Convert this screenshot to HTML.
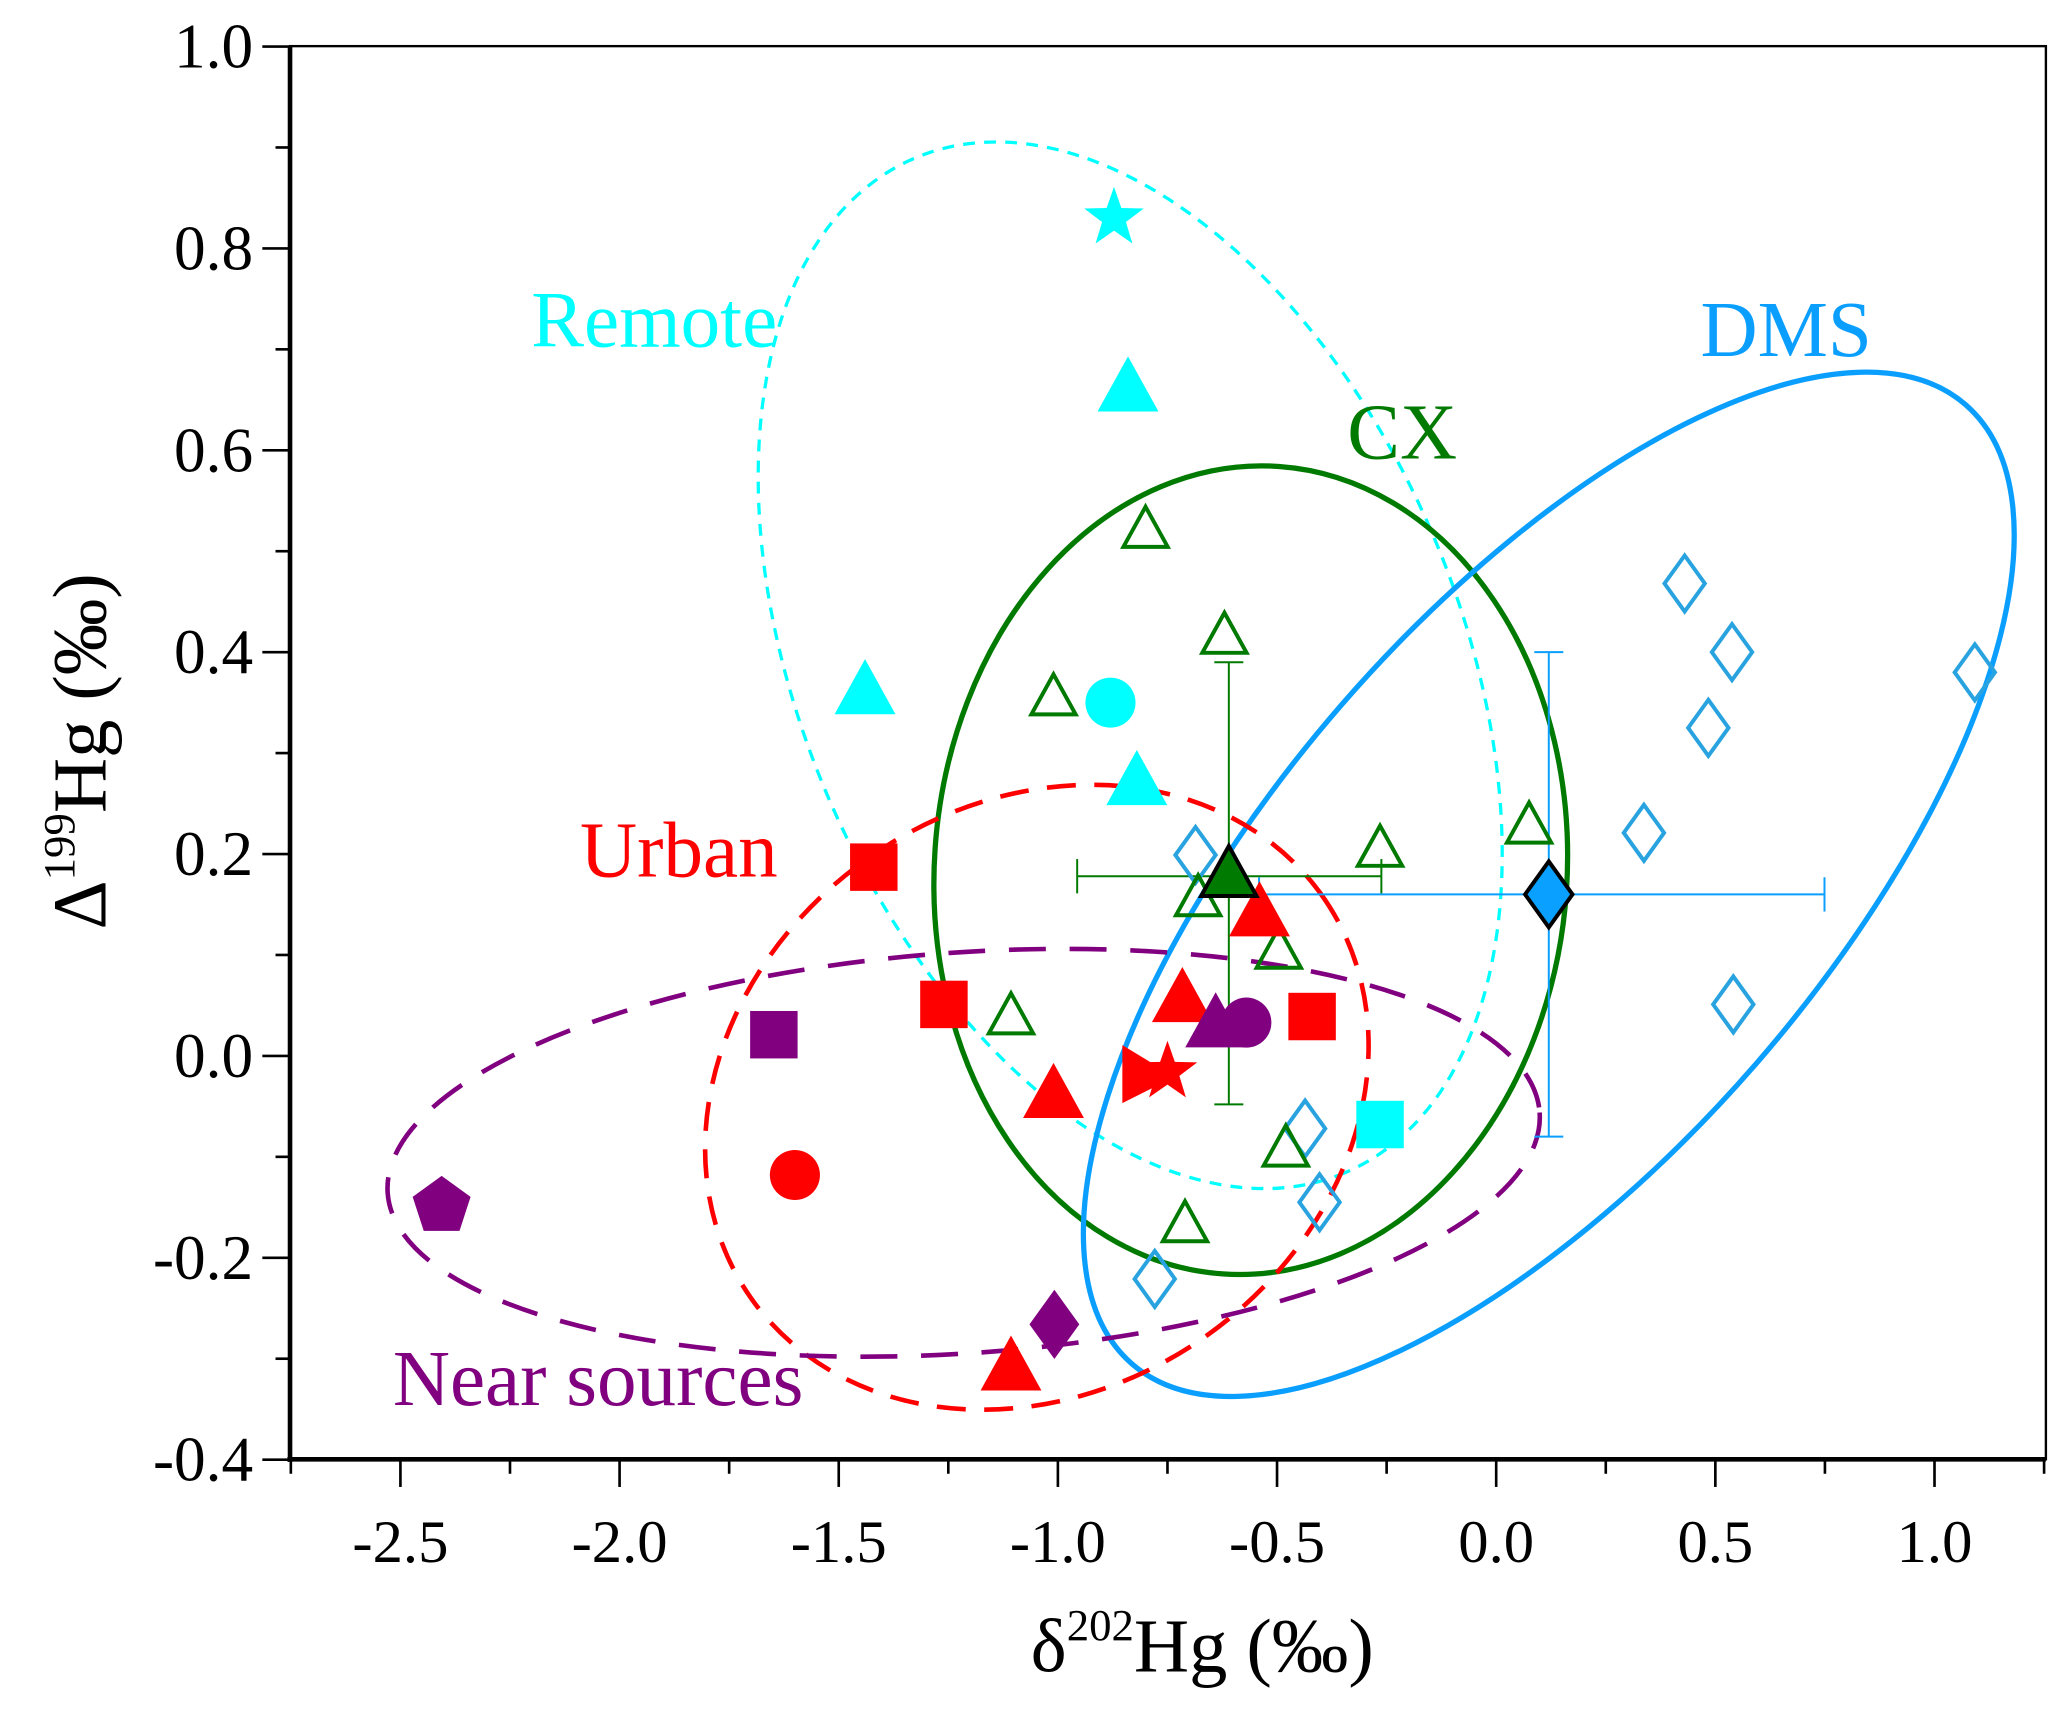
<!DOCTYPE html>
<html><head><meta charset="utf-8"><style>
html,body{margin:0;padding:0;background:#fff}
svg{display:block}
text{font-family:"Liberation Serif","DejaVu Serif",serif}
</style></head><body>
<svg id="chart" width="2067" height="1710" viewBox="0 0 1568 1297.2" xmlns="http://www.w3.org/2000/svg">
<g id="ellipses"></g>
<g id="marks"></g>
<g id="axes"></g>
<text x="403" y="263" font-size="60" fill="#00ffff">Remote</text>
<text x="1022" y="348" font-size="60" fill="#007a00">CX</text>
<text x="1290" y="270" font-size="60" fill="#0a9fff">DMS</text>
<text x="440" y="665" font-size="60" fill="#ff0000">Urban</text>
<text x="298" y="1066" font-size="60" fill="#800080">Near sources</text>
<text x="912" y="1268" font-size="58" text-anchor="middle">δ<tspan font-size="34" dy="-24">202</tspan><tspan dy="24">Hg (‰)</tspan></text>
<text transform="translate(80,570) rotate(-90)" font-size="58" text-anchor="middle">Δ<tspan font-size="34" dy="-24">199</tspan><tspan dy="24">Hg (‰)</tspan></text>
</svg>
<script>
const xTicks=[-2.5,-2.0,-1.5,-1.0,-0.5,0.0,0.5,1.0];
const xTickLabels=["-2.5","-2.0","-1.5","-1.0","-0.5","0.0","0.5","1.0"];
const yTicks=[-0.4,-0.2,0.0,0.2,0.4,0.6,0.8,1.0];
const yTickLabels=["-0.4","-0.2","0.0","0.2","0.4","0.6","0.8","1.0"];
const cyanX=[-0.872,-0.84,-1.44,-0.88,-0.82,-0.265];
const cyanY=[0.83,0.66,0.36,0.35,0.27,-0.068];
const cyanShape=["star","tri","tri","circle","tri","square"];
const redX=[-1.42,-1.26,-0.42,-0.54,-0.716,-1.01,-1.107,-1.6,-0.75,-0.8];
const redY=[0.187,0.051,0.039,0.14,0.055,-0.04,-0.31,-0.118,-0.016,-0.018];
const redShape=["square","square","square","tri","tri","tri","tri","circle","star","rtri"];
const purpleX=[-1.648,-2.406,-1.008,-0.64,-0.57];
const purpleY=[0.021,-0.149,-0.266,0.03,0.033];
const purpleShape=["square","pent","diamond","tri","circle"];
const cxX=[-0.80,-0.62,-1.01,-0.265,0.075,-0.68,-0.496,-1.107,-0.48,-0.71];
const cxY=[0.52,0.415,0.354,0.204,0.227,0.155,0.103,0.038,-0.093,-0.168];
const dmsX=[0.43,0.538,0.484,0.337,0.541,1.092,-0.686,-0.436,-0.403,-0.779];
const dmsY=[0.468,0.4,0.325,0.221,0.051,0.38,0.199,-0.072,-0.145,-0.221];
const cxMean=[-0.61,0.178], cxErrX=[-0.956,-0.262], cxErrY=[-0.048,0.39];
const dmsMean=[0.12,0.16], dmsErrX=[-0.541,0.749], dmsErrY=[-0.08,0.4];

const NS="http://www.w3.org/2000/svg";
const X0=220,X1=1552,Y0=35,Y1=1107;
const xs=v=>1135+332.5*v, ys=v=>801-765.7*v;
function mk(tag,attrs,parent){const e=document.createElementNS(NS,tag);for(const k in attrs)e.setAttribute(k,attrs[k]);parent.appendChild(e);return e;}
const ax=document.getElementById('axes'), mg=document.getElementById('marks'), eg=document.getElementById('ellipses');

function ell(cx,cy,rx,ry,ang,color,dash,w,name){
  const e=mk('ellipse',{cx:xs(cx),cy:ys(cy),rx:rx,ry:ry,transform:`rotate(${ang} ${xs(cx)} ${ys(cy)})`,fill:'none',stroke:color,'stroke-width':w},eg);
  if(dash)e.setAttribute('stroke-dasharray',dash);
  
  
}
ell(-0.835,0.387,418,250,67,'#00ffff','9,7',2.5,'ellipse-remote');
ell(-0.56,0.184,240,307,4,'#007a00',null,4,'ellipse-cx');
ell(0.12,0.17,482,208,-49,'#0a9fff',null,4,'ellipse-dms');
ell(-1.048,-0.041,265,222,-35,'#ff0000','22,14',3.5,'ellipse-urban');
ell(-1.215,-0.096,438,152,-4,'#800080','28,18',3.5,'ellipse-near-sources');

function shape(type,x,y,s,fill,stroke,sw,name){
  const cx=xs(x),cy=ys(y);let e;
  if(type==='square')e=mk('rect',{x:cx-s,y:cy-s,width:2*s,height:2*s},mg);
  else if(type==='circle')e=mk('circle',{cx:cx,cy:cy,r:s},mg);
  else{let pts=[];
    if(type==='tri')pts=[[0,-1.15],[1.05,0.75],[-1.05,0.75]];
    else if(type==='rtri')pts=[[-0.8,-1],[1,0.1],[-0.8,1]];
    else if(type==='diamond')pts=[[0,-1.25],[0.9,0],[0,1.25],[-0.9,0]];
    else if(type==='pent'){for(let i=0;i<5;i++){const a=-Math.PI/2+i*2*Math.PI/5;pts.push([Math.cos(a)*1.1,Math.sin(a)*1.1]);}}
    else if(type==='star'){for(let i=0;i<10;i++){const a=-Math.PI/2+i*Math.PI/5,r=i%2?0.5:1.25;pts.push([Math.cos(a)*r,Math.sin(a)*r]);}}
    e=mk('polygon',{points:pts.map(p=>(cx+p[0]*s)+','+(cy+p[1]*s)).join(' ')},mg);}
  e.setAttribute('fill',fill);e.setAttribute('stroke',stroke);e.setAttribute('stroke-width',sw);
  
  
}
function errbars(m,ex,ey,color,name){
  const g=mk('g',{stroke:color,'stroke-width':1.5},mg);
  
  
  mk('line',{x1:xs(ex[0]),x2:xs(ex[1]),y1:ys(m[1]),y2:ys(m[1])},g);
  mk('line',{x1:xs(m[0]),x2:xs(m[0]),y1:ys(ey[0]),y2:ys(ey[1])},g);
  [ex[0],ex[1]].forEach(v=>mk('line',{x1:xs(v),x2:xs(v),y1:ys(m[1])-13,y2:ys(m[1])+13},g));
  [ey[0],ey[1]].forEach(v=>mk('line',{x1:xs(m[0])-11,x2:xs(m[0])+11,y1:ys(v),y2:ys(v)},g));
}
errbars(cxMean,cxErrX,cxErrY,'#007a00','errorbar-cx');
errbars(dmsMean,dmsErrX,dmsErrY,'#0a9fff','errorbar-dms');
for(let i=0;i<dmsX.length;i++)shape('diamond',dmsX[i],dmsY[i],17,'none','#29a3e0',3,'point-dms');
for(let i=0;i<cxX.length;i++)shape('tri',cxX[i],cxY[i],16,'none','#007a00',3,'point-cx');
const sz=t=>t==='circle'?19:t==='square'?18:t==='star'?19:t==='diamond'?21:t==='pent'?21:22;
for(let i=0;i<cyanX.length;i++)shape(cyanShape[i],cyanX[i],cyanY[i],sz(cyanShape[i]),'#00ffff','none',0,'point-remote');
for(let i=0;i<redX.length;i++)shape(redShape[i],redX[i],redY[i],sz(redShape[i]),'#ff0000','none',0,'point-urban');
for(let i=0;i<purpleX.length;i++)shape(purpleShape[i],purpleX[i],purpleY[i],sz(purpleShape[i]),'#800080','none',0,'point-near-sources');
shape('tri',cxMean[0],cxMean[1],20,'#007a00','#000',3,'mean-cx');
shape('diamond',dmsMean[0],dmsMean[1],20,'#0aa0ff','#000',3,'mean-dms');

mk('rect',{x:X0,y:Y0,width:X1-X0,height:Y1-Y0,fill:'none',stroke:'#000','stroke-width':1.8},ax);
mk('line',{x1:X0,x2:X0,y1:Y0,y2:Y1+2,stroke:'#000','stroke-width':3.5},ax);
mk('line',{x1:X0-2,x2:X1,y1:Y1,y2:Y1,stroke:'#000','stroke-width':3.5},ax);
for(let i=0;i<yTicks.length;i++){const y=ys(yTicks[i]);
  mk('line',{x1:X0-21,x2:X0,y1:y,y2:y,stroke:'#000','stroke-width':2},ax);
  const t=mk('text',{x:X0-28,y:y+16,'font-size':48,'text-anchor':'end'},ax);t.textContent=yTickLabels[i];
  
  
  if(i<yTicks.length-1){const ym=ys(yTicks[i]+0.1);mk('line',{x1:X0-11,x2:X0,y1:ym,y2:ym,stroke:'#000','stroke-width':2},ax);}}
for(let i=0;i<xTicks.length;i++){const x=xs(xTicks[i]);
  mk('line',{x1:x,x2:x,y1:Y1,y2:Y1+21,stroke:'#000','stroke-width':2},ax);
  const t=mk('text',{x:x,y:Y1+78,'font-size':46,'text-anchor':'middle'},ax);t.textContent=xTickLabels[i];
  
  }
for(let v=-2.75;v<=1.26;v+=0.5){const x=xs(v);mk('line',{x1:x,x2:x,y1:Y1,y2:Y1+11,stroke:'#000','stroke-width':2},ax);}
</script>
</body></html>
